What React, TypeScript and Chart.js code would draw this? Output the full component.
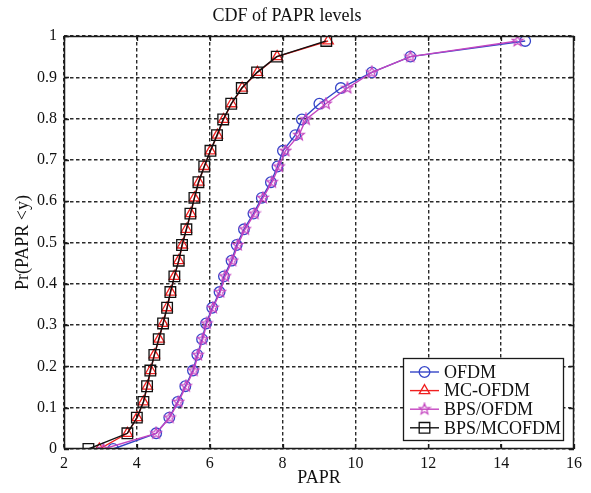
import React, { useEffect, useRef } from 'react';
import { Chart, registerables } from 'chart.js';

Chart.register(...registerables);

const cdfLevels = [0, 0.038, 0.076, 0.114, 0.152, 0.19, 0.228, 0.266, 0.304, 0.342, 0.38, 0.418, 0.456, 0.494, 0.532, 0.57, 0.608, 0.646, 0.684, 0.722, 0.76, 0.798, 0.836, 0.874, 0.912, 0.95, 0.988];
const ofdmX = [3.35, 4.53, 4.89, 5.12, 5.33, 5.54, 5.66, 5.79, 5.90, 6.07, 6.27, 6.39, 6.60, 6.74, 6.94, 7.20, 7.43, 7.68, 7.86, 8.01, 8.35, 8.53, 9.01, 9.60, 10.45, 11.51, 14.66];
const mcOfdmX = [2.97, 3.74, 4.01, 4.18, 4.29, 4.38, 4.48, 4.61, 4.72, 4.83, 4.93, 5.03, 5.15, 5.25, 5.36, 5.48, 5.58, 5.70, 5.85, 6.02, 6.21, 6.38, 6.60, 6.89, 7.31, 7.85, 9.25];
const bpsOfdmX = [3.08, 4.53, 4.90, 5.14, 5.35, 5.56, 5.68, 5.81, 5.92, 6.09, 6.29, 6.42, 6.62, 6.77, 6.97, 7.23, 7.46, 7.71, 7.90, 8.08, 8.45, 8.64, 9.19, 9.78, 10.45, 11.51, 14.45];
const bpsMcOfdmX = [2.67, 3.74, 4.00, 4.18, 4.28, 4.37, 4.48, 4.60, 4.72, 4.83, 4.92, 5.03, 5.15, 5.24, 5.36, 5.47, 5.58, 5.69, 5.85, 6.02, 6.20, 6.37, 6.59, 6.88, 7.30, 7.84, 9.20];

const seriesNames = ['OFDM', 'MC-OFDM', 'BPS/OFDM', 'BPS/MCOFDM'];
const xTickValues = [2, 4, 6, 8, 10, 12, 14, 16];
const yTickValues = [0, 0.1, 0.2, 0.3, 0.4, 0.5, 0.6, 0.7, 0.8, 0.9, 1];

const titleText = 'CDF of PAPR levels';
const xTitle = 'PAPR';
const yTitle = 'Pr(PAPR <y)';

const SERIF = "'Liberation Serif', 'Times New Roman', serif";
const BLUE = '#3545c8';
const RED = '#f02020';
const PINK = '#c445c0';
const BLACK = '#111111';

function makeStar(color: string): HTMLCanvasElement {
  const c = document.createElement('canvas');
  c.width = 14;
  c.height = 14;
  const g = c.getContext('2d')!;
  g.strokeStyle = color;
  g.lineWidth = 1.2;
  g.beginPath();
  for (let i = 0; i < 10; i++) {
    const r = i % 2 === 0 ? 5.8 : 2.4;
    const a = -Math.PI / 2 + (i * Math.PI) / 5;
    const px = 7 + r * Math.cos(a);
    const py = 7 + r * Math.sin(a);
    if (i === 0) g.moveTo(px, py);
    else g.lineTo(px, py);
  }
  g.closePath();
  g.stroke();
  return c;
}

function drawMarker(ctx: CanvasRenderingContext2D, kind: string, x: number, y: number, color: string, star?: HTMLCanvasElement) {
  ctx.save();
  ctx.strokeStyle = color;
  ctx.lineWidth = 1.3;
  ctx.beginPath();
  if (kind === 'circle') {
    ctx.arc(x, y, 5.3, 0, Math.PI * 2);
    ctx.stroke();
  } else if (kind === 'triangle') {
    const r = 6;
    ctx.moveTo(x, y - r);
    ctx.lineTo(x + r * 0.866, y + r * 0.5);
    ctx.lineTo(x - r * 0.866, y + r * 0.5);
    ctx.closePath();
    ctx.stroke();
  } else if (kind === 'rect') {
    const s = 5.3;
    ctx.rect(x - s, y - s, 2 * s, 2 * s);
    ctx.stroke();
  } else if (kind === 'star' && star) {
    ctx.drawImage(star, x - star.width / 2, y - star.height / 2);
  }
  ctx.restore();
}

export default function App() {
  const ref = useRef<HTMLCanvasElement | null>(null);

  useEffect(() => {
    const canvas = ref.current;
    if (!canvas) return;
    const starImg = makeStar(PINK);
    const toPts = (xs: number[]) => xs.map((x, i) => ({ x, y: cdfLevels[i] }));

    const styles = [
      { name: seriesNames[0], color: BLUE, kind: 'circle' },
      { name: seriesNames[1], color: RED, kind: 'triangle' },
      { name: seriesNames[2], color: PINK, kind: 'star' },
      { name: seriesNames[3], color: BLACK, kind: 'rect' },
    ];

    const frame = {
      id: 'matlabFrame',
      afterDatasetsDraw(chart: any) {
        const { ctx, chartArea } = chart;
        const { left, right, top, bottom } = chartArea;
        const xs = chart.scales.x;
        const ys = chart.scales.y;
        ctx.save();
        ctx.strokeStyle = '#1a1a1a';
        ctx.lineWidth = 1.5;
        ctx.setLineDash([]);
        ctx.strokeRect(left + 0.5, top + 0.5, right - left - 1, bottom - top - 1);
        const tl = 5;
        ctx.lineWidth = 1.3;
        ctx.beginPath();
        xTickValues.forEach((v) => {
          const px = Math.round(xs.getPixelForValue(v)) + 0.5;
          ctx.moveTo(px, bottom);
          ctx.lineTo(px, bottom - tl);
          ctx.moveTo(px, top);
          ctx.lineTo(px, top + tl);
        });
        yTickValues.forEach((v) => {
          const py = Math.round(ys.getPixelForValue(v)) + 0.5;
          ctx.moveTo(left, py);
          ctx.lineTo(left + tl, py);
          ctx.moveTo(right, py);
          ctx.lineTo(right - tl, py);
        });
        ctx.stroke();
        ctx.restore();
      },
      afterDraw(chart: any) {
        const { ctx } = chart;
        const bx = 403, by = 358, bw = 160, bh = 82;
        ctx.save();
        ctx.fillStyle = '#fff';
        ctx.fillRect(bx, by, bw, bh);
        ctx.strokeStyle = '#1a1a1a';
        ctx.lineWidth = 1.3;
        ctx.strokeRect(bx + 0.5, by + 0.5, bw, bh);
        ctx.font = `18px ${SERIF}`;
        ctx.textBaseline = 'middle';
        ctx.textAlign = 'left';
        styles.forEach((s, i) => {
          const cy = by + 14 + i * 18.6;
          ctx.strokeStyle = s.color;
          ctx.lineWidth = 1.4;
          ctx.beginPath();
          ctx.moveTo(410, cy);
          ctx.lineTo(439, cy);
          ctx.stroke();
          drawMarker(ctx, s.kind, 424.5, cy, s.color, starImg);
          ctx.fillStyle = '#111';
          ctx.fillText(s.name, 444, cy + 1);
        });
        ctx.restore();
      },
    };

    const mk = (i: number, xs: number[]) => ({
      label: styles[i].name,
      data: toPts(xs),
      showLine: true,
      borderColor: styles[i].color,
      borderWidth: 1.4,
      backgroundColor: 'rgba(0,0,0,0)',
      pointBackgroundColor: 'rgba(0,0,0,0)',
      pointBorderColor: styles[i].color,
      pointBorderWidth: 1.3,
      pointStyle: styles[i].kind === 'star' ? starImg : styles[i].kind,
      pointRadius: styles[i].kind === 'rect' ? 7.5 : styles[i].kind === 'triangle' ? 6 : 5.3,
      tension: 0,
      order: 4 - i,
    });

    const chart = new Chart(canvas, {
      type: 'scatter',
      data: {
        datasets: [mk(0, ofdmX), mk(1, mcOfdmX), mk(2, bpsOfdmX), mk(3, bpsMcOfdmX)],
      },
      options: {
        animation: false,
        responsive: false,
        layout: { padding: { left: 0, right: 17, top: 0, bottom: 0 } },
        plugins: {
          legend: { display: false },
          tooltip: { enabled: false },
          title: {
            display: true,
            text: titleText,
            color: '#111',
            font: { family: SERIF, size: 18, weight: 'normal' },
            padding: { top: 5.5, bottom: 8.9 },
          },
        },
        scales: {
          x: {
            type: 'linear',
            min: 2,
            max: 16,
            afterBuildTicks: (s: any) => {
              s.ticks = xTickValues.map((v) => ({ value: v }));
            },
            afterFit: (s: any) => {
              s.height = 44;
            },
            grid: { color: '#2a2a2a', lineWidth: 1.4, drawTicks: false },
            border: { display: false, dash: [3.5, 2.5] },
            ticks: {
              color: '#111',
              font: { family: SERIF, size: 16 },
              padding: 5,
              maxRotation: 0,
              callback: (v: any) => String(v),
            },
            title: {
              display: true,
              text: xTitle,
              color: '#111',
              font: { family: SERIF, size: 18 },
              padding: { top: 0, bottom: 4 },
            },
          },
          y: {
            type: 'linear',
            min: 0,
            max: 1,
            afterBuildTicks: (s: any) => {
              s.ticks = yTickValues.map((v) => ({ value: v }));
            },
            afterFit: (s: any) => {
              s.width = 64;
            },
            grid: { color: '#2a2a2a', lineWidth: 1.4, drawTicks: false },
            border: { display: false, dash: [3.5, 2.5] },
            ticks: {
              color: '#111',
              font: { family: SERIF, size: 16 },
              padding: 7,
              callback: (v: any) => String(Number(Number(v).toFixed(1))),
            },
            title: {
              display: true,
              text: yTitle,
              color: '#111',
              font: { family: SERIF, size: 18 },
              padding: { top: 12, bottom: 0 },
            },
          },
        },
      },
      plugins: [frame],
    } as any);

    return () => chart.destroy();
  }, []);

  return (
    <div style={{ position: 'absolute', left: 0, top: 0, width: 591, height: 493, background: '#fff' }}>
      <canvas ref={ref} width={591} height={493} style={{ width: 591, height: 493, display: 'block' }} />
    </div>
  );
}
